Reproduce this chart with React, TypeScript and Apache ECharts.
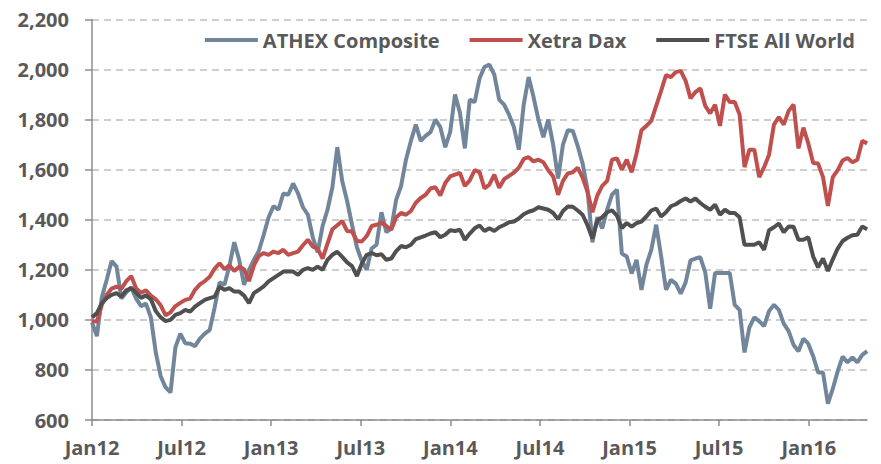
import React, { useEffect, useRef } from "react";
import * as echarts from "echarts";

// Sampling: one reading every 10 days, starting 1 Jan 2012
const START_YEAR = 2012;
const STEP_DAYS = 10;

const seriesNames = ["ATHEX Composite", "Xetra Dax", "FTSE All World"];

const athex = [
  990, 935, 1090, 1160, 1235, 1213, 1085, 1110, 1130, 1085,
  1055, 1065, 1010, 870, 775, 730, 710, 890, 945, 907,
  905, 895, 925, 945, 960, 1050, 1150, 1140, 1215, 1310,
  1240, 1140, 1200, 1240, 1275, 1340, 1410, 1455, 1440, 1505,
  1500, 1545, 1505, 1450, 1420, 1330, 1270, 1375, 1440, 1530,
  1690, 1555, 1475, 1380, 1290, 1235, 1200, 1285, 1300, 1430,
  1350, 1365, 1480, 1535, 1640, 1715, 1780, 1715, 1735, 1750,
  1800, 1770, 1690, 1750, 1900, 1827, 1685, 1880, 1870, 1965,
  2010, 2020, 1980, 1880, 1860, 1820, 1770, 1680, 1860, 1970,
  1890, 1800, 1730, 1800, 1700, 1565, 1700, 1758, 1755, 1695,
  1625, 1520, 1310, 1410, 1365, 1440, 1500, 1520, 1265, 1253,
  1185, 1240, 1120, 1220, 1280, 1380, 1255, 1120, 1160, 1145,
  1105, 1150, 1238, 1245, 1250, 1190, 1045, 1187, 1187, 1187,
  1187, 1060, 1040, 870, 970, 1010, 995, 975, 1035, 1060,
  1040, 985, 955, 900, 875, 925, 905, 855, 790, 790,
  665, 725, 795, 853, 830, 850, 830, 860, 875,
];

const xetraDax = [
  995, 993, 1060, 1100, 1125, 1133, 1125, 1155, 1175, 1125,
  1108, 1118, 1097, 1082, 1058, 1018, 1030, 1055, 1068, 1080,
  1085, 1120, 1142, 1155, 1172, 1205, 1226, 1202, 1218, 1195,
  1212, 1202, 1155, 1218, 1255, 1267, 1260, 1273, 1267, 1280,
  1260, 1267, 1273, 1298, 1320, 1293, 1285, 1245, 1305, 1362,
  1378, 1395, 1355, 1353, 1315, 1313, 1335, 1375, 1380, 1388,
  1375, 1360, 1410, 1427, 1420, 1435, 1468, 1487, 1500, 1525,
  1530, 1497, 1547, 1573, 1580, 1587, 1535, 1557, 1598, 1590,
  1525, 1540, 1580, 1528, 1562, 1575, 1588, 1608, 1643, 1650,
  1633, 1640, 1630, 1598, 1573, 1500, 1555, 1585, 1590, 1608,
  1568, 1512, 1430, 1497, 1535, 1555, 1640, 1645, 1600, 1640,
  1590, 1665, 1758, 1775, 1795, 1855, 1915, 1978, 1970, 1990,
  1995, 1955, 1885, 1910, 1925, 1855, 1825, 1860, 1775, 1900,
  1870, 1870, 1820, 1610, 1680, 1680, 1570, 1610, 1660, 1780,
  1810, 1780, 1835, 1860, 1685, 1768, 1705, 1627, 1625, 1570,
  1455, 1570, 1598, 1637, 1647, 1630, 1640, 1715, 1705,
];

const ftseAllWorld = [
  1010, 1027, 1067, 1087, 1100, 1107, 1093, 1118, 1127, 1108,
  1088, 1098, 1082, 1035, 1010, 995, 1000, 1020, 1027, 1040,
  1033, 1053, 1067, 1080, 1087, 1093, 1133, 1120, 1127, 1113,
  1113, 1097, 1067, 1107, 1120, 1134, 1154, 1167, 1180, 1193,
  1193, 1193, 1180, 1200, 1207, 1200, 1212, 1200, 1240, 1260,
  1272, 1252, 1230, 1215, 1175, 1225, 1260, 1267, 1258, 1262,
  1240, 1245, 1275, 1295, 1290, 1300, 1323, 1330, 1337, 1345,
  1350, 1330, 1340, 1358, 1355, 1360, 1320, 1345, 1366, 1377,
  1355, 1366, 1355, 1370, 1379, 1390, 1393, 1405, 1422, 1432,
  1438, 1450, 1445, 1440, 1427, 1402, 1435, 1453, 1452, 1437,
  1420, 1378, 1325, 1397, 1410, 1430, 1438, 1416, 1367, 1387,
  1373, 1387, 1393, 1413, 1437, 1445, 1413, 1430, 1454, 1462,
  1475, 1485, 1473, 1485, 1467, 1452, 1440, 1460, 1420, 1440,
  1427, 1427, 1410, 1300, 1300, 1300, 1310, 1280, 1358, 1370,
  1385, 1350, 1373, 1372, 1320, 1320, 1330, 1253, 1210, 1245,
  1195, 1242, 1285, 1315, 1328, 1338, 1340, 1373, 1362,
];

const xTickValues = [2012, 2012.5, 2013, 2013.5, 2014, 2014.5, 2015, 2015.5, 2016];
const xTickLabels = ["Jan12", "Jul12", "Jan13", "Jul13", "Jan14", "Jul14", "Jan15", "Jul15", "Jan16"];

const Y_MIN = 600;
const Y_MAX = 2200;
const Y_STEP = 200;
const X_MIN = 2012;
const X_MAX = 2016.325;

const colors = ["#72869B", "#C0504D", "#505050"];

const toPairs = (vals: number[]) =>
  vals.map((v, i) => [START_YEAR + (i * STEP_DAYS) / 365.25, v]);

const FONT = "Open Sans";
const TEXT_COLOR = "#595959";
const FONT_SIZE = 20;

export default function App() {
  const ref = useRef<HTMLDivElement>(null);
  useEffect(() => {
    if (!ref.current) return;
    const chart = echarts.init(ref.current, undefined, { renderer: "svg" });
    const allSeries = [athex, xetraDax, ftseAllWorld];
    chart.setOption({
      animation: false,
      color: colors,
      textStyle: { fontFamily: FONT },
      grid: {
        left: 92,
        right: 14,
        top: 19.5,
        bottom: 44,
        containLabel: false,
        outerBoundsMode: "none",
      },
      legend: {
        right: 21,
        top: 25,
        itemWidth: 53,
        itemHeight: 4,
        itemGap: 30,
        icon: "rect",
        textStyle: {
          fontFamily: FONT,
          fontWeight: "bold",
          fontSize: FONT_SIZE,
          color: TEXT_COLOR,
        },
        data: seriesNames,
      },
      xAxis: {
        type: "value",
        min: X_MIN,
        max: X_MAX,
        interval: 0.5,
        axisLine: { show: true, lineStyle: { color: "#8C8C8C", width: 1.5 } },
        axisTick: {
          show: true,
          length: 6,
          lineStyle: { color: "#8C8C8C", width: 1.5 },
          customValues: xTickValues,
        },
        axisLabel: {
          margin: 17,
          fontFamily: FONT,
          fontWeight: "bold",
          fontSize: FONT_SIZE,
          color: TEXT_COLOR,
          customValues: xTickValues,
          formatter: (v: number) => {
            const idx = xTickValues.findIndex((t) => Math.abs(t - v) < 1e-6);
            return idx >= 0 ? xTickLabels[idx] : "";
          },
        },
        splitLine: { show: false },
      },
      yAxis: {
        type: "value",
        min: Y_MIN,
        max: Y_MAX,
        interval: Y_STEP,
        axisLine: { show: true, lineStyle: { color: "#8C8C8C", width: 1.5 } },
        axisTick: { show: true, length: 7, lineStyle: { color: "#8C8C8C", width: 1.5 } },
        axisLabel: {
          margin: 23,
          fontFamily: FONT,
          fontWeight: "bold",
          fontSize: FONT_SIZE,
          color: TEXT_COLOR,
          formatter: (v: number) => v.toLocaleString("en-US"),
        },
        splitLine: {
          show: true,
          lineStyle: { color: "#BFBFBF", width: 1.5, type: [7, 5] },
        },
      },
      series: allSeries.map((vals, k) => ({
        name: seriesNames[k],
        type: "line",
        data: toPairs(vals),
        showSymbol: false,
        symbol: "none",
        lineStyle: { width: 4, color: colors[k] },
        itemStyle: { color: colors[k] },
        z: 2 + k,
      })),
    });
    return () => chart.dispose();
  }, []);
  return (
    <div
      ref={ref}
      style={{ position: "fixed", left: 0, top: 0, width: 881, height: 464, background: "#fff" }}
    />
  );
}
